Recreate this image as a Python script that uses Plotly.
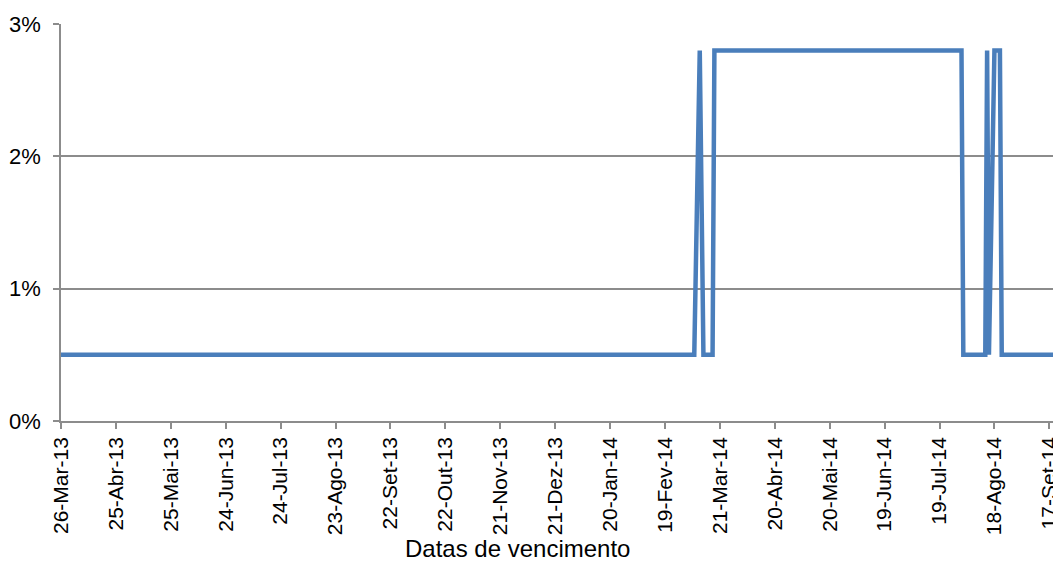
import plotly.graph_objects as go

# Change-point series (business-day data, straight segments between points)
dates = ["2013-03-26", "2014-03-07", "2014-03-10", "2014-03-12", "2014-03-17",
         "2014-03-18", "2014-07-31", "2014-08-01", "2014-08-13", "2014-08-14",
         "2014-08-15", "2014-08-18", "2014-08-21", "2014-08-22", "2014-09-19"]
values = [0.5, 0.5, 2.8, 0.5, 0.5,
          2.8, 2.8, 0.5, 0.5, 2.8,
          0.5, 2.8, 2.8, 0.5, 0.5]

tick_dates = ["2013-03-26", "2013-04-25", "2013-05-25", "2013-06-24", "2013-07-24",
              "2013-08-23", "2013-09-22", "2013-10-22", "2013-11-21", "2013-12-21",
              "2014-01-20", "2014-02-19", "2014-03-21", "2014-04-20", "2014-05-20",
              "2014-06-19", "2014-07-19", "2014-08-18", "2014-09-17"]
tick_labels = ["26-Mar-13", "25-Abr-13", "25-Mai-13", "24-Jun-13", "24-Jul-13",
               "23-Ago-13", "22-Set-13", "22-Out-13", "21-Nov-13", "21-Dez-13",
               "20-Jan-14", "19-Fev-14", "21-Mar-14", "20-Abr-14", "20-Mai-14",
               "19-Jun-14", "19-Jul-14", "18-Ago-14", "17-Set-14"]

y_ticks = [0, 1, 2, 3]
y_labels = ["0%", "1%", "2%", "3%"]

x_title = "Datas de vencimento"

grid_color = "#8C8C8C"

fig = go.Figure()
fig.add_trace(go.Scatter(
    x=dates, y=values, mode="lines",
    line=dict(color="#4A7EBB", width=4.5),
    hoverinfo="x+y",
))

fig.update_layout(
    width=1053, height=567,
    margin=dict(l=61, r=0, t=24, b=146),
    paper_bgcolor="white", plot_bgcolor="white",
    showlegend=False,
    font=dict(family="Liberation Sans, Arial, sans-serif", color="black", size=22),
)

fig.add_annotation(
    text=x_title, xref="paper", yref="paper",
    x=0.46, y=-0.322, xanchor="center", yanchor="middle",
    showarrow=False, font=dict(size=24, color="black"),
)

fig.update_xaxes(
    type="date",
    range=["2013-03-26", "2014-09-19"],
    tickmode="array", tickvals=tick_dates, ticktext=tick_labels,
    tickangle=-90,
    tickfont=dict(size=21),
    ticks="outside", ticklen=6, tickwidth=1.5, tickcolor=grid_color,
    ticklabeloverflow="allow",
    showline=True, linecolor=grid_color, linewidth=1.5,
    showgrid=False, zeroline=False,
    automargin=False,
)

fig.update_yaxes(
    range=[0, 3],
    tickmode="array", tickvals=y_ticks, ticktext=y_labels,
    tickfont=dict(size=22),
    ticks="outside", ticklen=6, tickwidth=1.5, tickcolor=grid_color,
    ticklabelstandoff=8,
    showline=True, linecolor=grid_color, linewidth=1.5,
    showgrid=True, gridcolor=grid_color, gridwidth=1.5,
    zeroline=False,
    automargin=False,
)

fig.write_html(
    "out.html",
    config={"displayModeBar": False},
    post_script="document.body.style.margin='0';document.body.style.overflow='hidden';",
)
